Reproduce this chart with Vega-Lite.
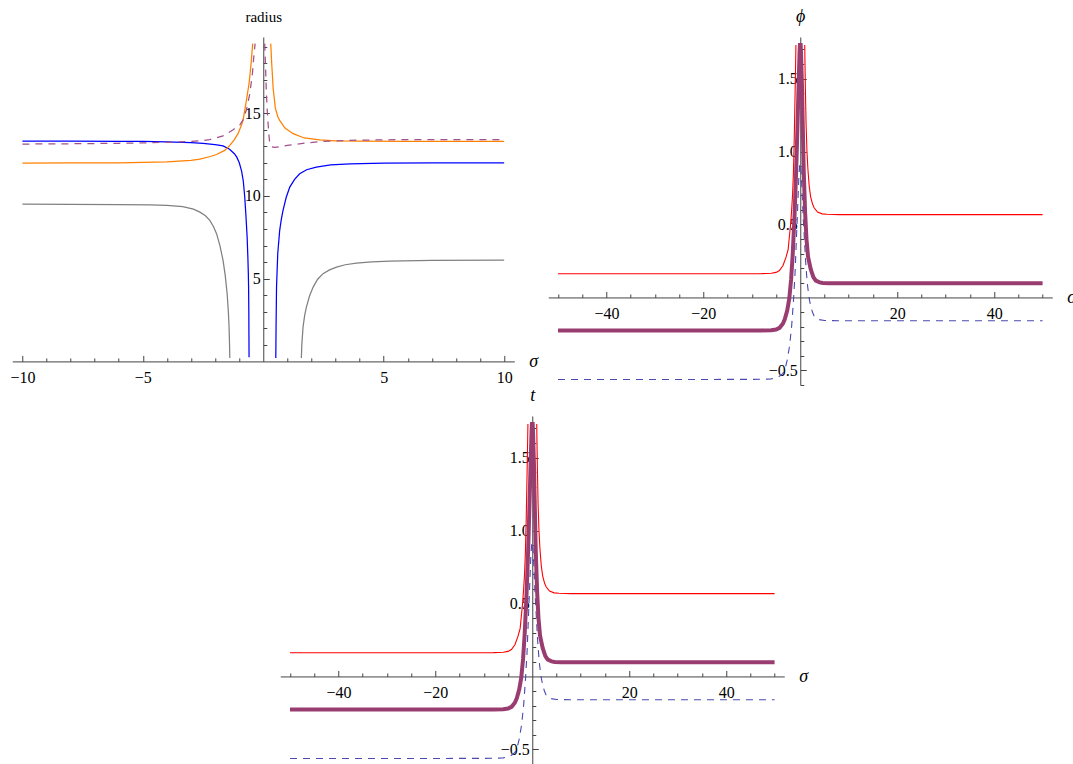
{
  "$schema": "https://vega.github.io/schema/vega-lite/v6.json",
  "padding": {"left": 9, "top": 7, "right": 0, "bottom": 0},
  "background": "white",
  "config": {
    "view": {"stroke": null},
    "axis": {
      "grid": false,
      "domainColor": "#444444",
      "tickColor": "#444444",
      "labelColor": "black",
      "labelFont": "Liberation Serif",
      "labelFontSize": 16,
      "labelFlush": false,
      "labelOverlap": false,
      "titleFont": "Liberation Serif",
      "titleColor": "black",
      "titleFontWeight": "normal",
      "zindex": 1
    }
  },
  "datasets": {
    "p1": [
      {"s": -10, "r": 13.31, "c": "blue", "g": "bL"}, {"s": -8, "r": 13.31, "c": "blue", "g": "bL"}, {"s": -6, "r": 13.3, "c": "blue", "g": "bL"}, {"s": -5, "r": 13.29, "c": "blue", "g": "bL"}, {"s": -4, "r": 13.27, "c": "blue", "g": "bL"}, {"s": -3, "r": 13.22, "c": "blue", "g": "bL"}, {"s": -2.5, "r": 13.17, "c": "blue", "g": "bL"}, {"s": -2, "r": 13.1, "c": "blue", "g": "bL"}, {"s": -1.67, "r": 13.02, "c": "blue", "g": "bL"}, {"s": -1.4, "r": 12.82, "c": "blue", "g": "bL"}, {"s": -1.2, "r": 12.55, "c": "blue", "g": "bL"}, {"s": -1.1, "r": 12.34, "c": "blue", "g": "bL"}, {"s": -1, "r": 12.02, "c": "blue", "g": "bL"}, {"s": -0.9, "r": 11.5, "c": "blue", "g": "bL"}, {"s": -0.83, "r": 10.9, "c": "blue", "g": "bL"}, {"s": -0.77, "r": 9.95, "c": "blue", "g": "bL"}, {"s": -0.72, "r": 8.8, "c": "blue", "g": "bL"}, {"s": -0.67, "r": 7.5, "c": "blue", "g": "bL"}, {"s": -0.64, "r": 6.3, "c": "blue", "g": "bL"}, {"s": -0.62, "r": 5.3, "c": "blue", "g": "bL"}, {"s": -0.61, "r": 4.5, "c": "blue", "g": "bL"}, {"s": -0.6, "r": 3.0, "c": "blue", "g": "bL"}, {"s": -0.595, "r": 1.5, "c": "blue", "g": "bL"}, {"s": -0.59, "r": 0.25, "c": "blue", "g": "bL"},
      {"s": 0.52, "r": 0.2, "c": "blue", "g": "bR"}, {"s": 0.53, "r": 2.0, "c": "blue", "g": "bR"}, {"s": 0.55, "r": 4.5, "c": "blue", "g": "bR"}, {"s": 0.6, "r": 6.5, "c": "blue", "g": "bR"}, {"s": 0.68, "r": 7.9, "c": "blue", "g": "bR"}, {"s": 0.75, "r": 8.6, "c": "blue", "g": "bR"}, {"s": 0.82, "r": 9.12, "c": "blue", "g": "bR"}, {"s": 0.95, "r": 9.9, "c": "blue", "g": "bR"}, {"s": 1.1, "r": 10.53, "c": "blue", "g": "bR"}, {"s": 1.3, "r": 11.0, "c": "blue", "g": "bR"}, {"s": 1.51, "r": 11.34, "c": "blue", "g": "bR"}, {"s": 1.8, "r": 11.58, "c": "blue", "g": "bR"}, {"s": 2.2, "r": 11.74, "c": "blue", "g": "bR"}, {"s": 2.8, "r": 11.87, "c": "blue", "g": "bR"}, {"s": 3.6, "r": 11.94, "c": "blue", "g": "bR"}, {"s": 5, "r": 11.98, "c": "blue", "g": "bR"}, {"s": 7, "r": 12.0, "c": "blue", "g": "bR"}, {"s": 10, "r": 12.0, "c": "blue", "g": "bR"},
      {"s": -10, "r": 11.98, "c": "orange", "g": "oL"}, {"s": -8, "r": 11.99, "c": "orange", "g": "oL"}, {"s": -6, "r": 12.0, "c": "orange", "g": "oL"}, {"s": -5, "r": 12.02, "c": "orange", "g": "oL"}, {"s": -4, "r": 12.06, "c": "orange", "g": "oL"}, {"s": -3, "r": 12.15, "c": "orange", "g": "oL"}, {"s": -2.63, "r": 12.22, "c": "orange", "g": "oL"}, {"s": -2.2, "r": 12.38, "c": "orange", "g": "oL"}, {"s": -1.94, "r": 12.5, "c": "orange", "g": "oL"}, {"s": -1.6, "r": 12.75, "c": "orange", "g": "oL"}, {"s": -1.39, "r": 13.05, "c": "orange", "g": "oL"}, {"s": -1.2, "r": 13.4, "c": "orange", "g": "oL"}, {"s": -1.05, "r": 13.76, "c": "orange", "g": "oL"}, {"s": -0.9, "r": 14.3, "c": "orange", "g": "oL"}, {"s": -0.84, "r": 14.56, "c": "orange", "g": "oL"}, {"s": -0.7, "r": 15.77, "c": "orange", "g": "oL"}, {"s": -0.6, "r": 16.7, "c": "orange", "g": "oL"}, {"s": -0.56, "r": 17.2, "c": "orange", "g": "oL"}, {"s": -0.5, "r": 18.1, "c": "orange", "g": "oL"}, {"s": -0.44, "r": 19.2, "c": "orange", "g": "oL"},
      {"s": 0.31, "r": 19.2, "c": "orange", "g": "oR"}, {"s": 0.35, "r": 18.0, "c": "orange", "g": "oR"}, {"s": 0.41, "r": 16.5, "c": "orange", "g": "oR"}, {"s": 0.5, "r": 15.3, "c": "orange", "g": "oR"}, {"s": 0.6, "r": 14.8, "c": "orange", "g": "oR"}, {"s": 0.68, "r": 14.56, "c": "orange", "g": "oR"}, {"s": 0.9, "r": 14.1, "c": "orange", "g": "oR"}, {"s": 1.24, "r": 13.76, "c": "orange", "g": "oR"}, {"s": 1.7, "r": 13.5, "c": "orange", "g": "oR"}, {"s": 2.34, "r": 13.38, "c": "orange", "g": "oR"}, {"s": 3, "r": 13.33, "c": "orange", "g": "oR"}, {"s": 4, "r": 13.31, "c": "orange", "g": "oR"}, {"s": 6, "r": 13.3, "c": "orange", "g": "oR"}, {"s": 10, "r": 13.3, "c": "orange", "g": "oR"},
      {"s": -10, "r": 9.5, "c": "gray", "g": "gL"}, {"s": -8, "r": 9.49, "c": "gray", "g": "gL"}, {"s": -6, "r": 9.47, "c": "gray", "g": "gL"}, {"s": -4.7, "r": 9.45, "c": "gray", "g": "gL"}, {"s": -4, "r": 9.42, "c": "gray", "g": "gL"}, {"s": -3.34, "r": 9.35, "c": "gray", "g": "gL"}, {"s": -2.9, "r": 9.2, "c": "gray", "g": "gL"}, {"s": -2.63, "r": 9.02, "c": "gray", "g": "gL"}, {"s": -2.4, "r": 8.8, "c": "gray", "g": "gL"}, {"s": -2.22, "r": 8.52, "c": "gray", "g": "gL"}, {"s": -2.07, "r": 8.15, "c": "gray", "g": "gL"}, {"s": -1.94, "r": 7.72, "c": "gray", "g": "gL"}, {"s": -1.8, "r": 7.0, "c": "gray", "g": "gL"}, {"s": -1.67, "r": 6.1, "c": "gray", "g": "gL"}, {"s": -1.58, "r": 5.2, "c": "gray", "g": "gL"}, {"s": -1.5, "r": 4.09, "c": "gray", "g": "gL"}, {"s": -1.45, "r": 3.0, "c": "gray", "g": "gL"}, {"s": -1.42, "r": 2.07, "c": "gray", "g": "gL"}, {"s": -1.4, "r": 1.0, "c": "gray", "g": "gL"}, {"s": -1.39, "r": 0.2, "c": "gray", "g": "gL"},
      {"s": 1.58, "r": 0.2, "c": "gray", "g": "gR"}, {"s": 1.6, "r": 1.0, "c": "gray", "g": "gR"}, {"s": 1.65, "r": 2.07, "c": "gray", "g": "gR"}, {"s": 1.72, "r": 2.8, "c": "gray", "g": "gR"}, {"s": 1.79, "r": 3.28, "c": "gray", "g": "gR"}, {"s": 1.92, "r": 3.95, "c": "gray", "g": "gR"}, {"s": 2.07, "r": 4.49, "c": "gray", "g": "gR"}, {"s": 2.25, "r": 4.95, "c": "gray", "g": "gR"}, {"s": 2.48, "r": 5.3, "c": "gray", "g": "gR"}, {"s": 2.75, "r": 5.53, "c": "gray", "g": "gR"}, {"s": 3.04, "r": 5.7, "c": "gray", "g": "gR"}, {"s": 3.4, "r": 5.84, "c": "gray", "g": "gR"}, {"s": 3.87, "r": 5.94, "c": "gray", "g": "gR"}, {"s": 4.5, "r": 6.02, "c": "gray", "g": "gR"}, {"s": 5.25, "r": 6.06, "c": "gray", "g": "gR"}, {"s": 7, "r": 6.1, "c": "gray", "g": "gR"}, {"s": 10, "r": 6.12, "c": "gray", "g": "gR"},
      {"s": -10, "r": 13.13, "c": "dash", "g": "dL"}, {"s": -8, "r": 13.15, "c": "dash", "g": "dL"}, {"s": -6, "r": 13.18, "c": "dash", "g": "dL"}, {"s": -5, "r": 13.2, "c": "dash", "g": "dL"}, {"s": -4, "r": 13.24, "c": "dash", "g": "dL"}, {"s": -3, "r": 13.3, "c": "dash", "g": "dL"}, {"s": -2.63, "r": 13.33, "c": "dash", "g": "dL"}, {"s": -2.22, "r": 13.4, "c": "dash", "g": "dL"}, {"s": -1.67, "r": 13.62, "c": "dash", "g": "dL"}, {"s": -1.25, "r": 14.0, "c": "dash", "g": "dL"}, {"s": -0.97, "r": 14.3, "c": "dash", "g": "dL"}, {"s": -0.84, "r": 14.6, "c": "dash", "g": "dL"}, {"s": -0.7, "r": 15.2, "c": "dash", "g": "dL"}, {"s": -0.56, "r": 16.17, "c": "dash", "g": "dL"}, {"s": -0.45, "r": 17.4, "c": "dash", "g": "dL"}, {"s": -0.4, "r": 18.3, "c": "dash", "g": "dL"}, {"s": -0.34, "r": 19.2, "c": "dash", "g": "dL"},
      {"s": 0.06, "r": 19.2, "c": "dash", "g": "dR"}, {"s": 0.1, "r": 17.5, "c": "dash", "g": "dR"}, {"s": 0.13, "r": 16.17, "c": "dash", "g": "dR"}, {"s": 0.17, "r": 15.0, "c": "dash", "g": "dR"}, {"s": 0.2, "r": 14.36, "c": "dash", "g": "dR"}, {"s": 0.24, "r": 13.6, "c": "dash", "g": "dR"}, {"s": 0.27, "r": 13.15, "c": "dash", "g": "dR"}, {"s": 0.35, "r": 12.97, "c": "dash", "g": "dR"}, {"s": 0.48, "r": 12.93, "c": "dash", "g": "dR"}, {"s": 0.7, "r": 12.98, "c": "dash", "g": "dR"}, {"s": 1.0, "r": 13.05, "c": "dash", "g": "dR"}, {"s": 1.5, "r": 13.15, "c": "dash", "g": "dR"}, {"s": 2.34, "r": 13.28, "c": "dash", "g": "dR"}, {"s": 3, "r": 13.33, "c": "dash", "g": "dR"}, {"s": 4, "r": 13.37, "c": "dash", "g": "dR"}, {"s": 6, "r": 13.4, "c": "dash", "g": "dR"}, {"s": 10, "r": 13.4, "c": "dash", "g": "dR"}
    ],
    "p2": [
      {"s": -50, "v": -0.562, "c": "dash", "g": "d"}, {"s": -20, "v": -0.562, "c": "dash", "g": "d"}, {"s": -8, "v": -0.561, "c": "dash", "g": "d"}, {"s": -6, "v": -0.558, "c": "dash", "g": "d"}, {"s": -5, "v": -0.55, "c": "dash", "g": "d"}, {"s": -4.3, "v": -0.54, "c": "dash", "g": "d"}, {"s": -3.56, "v": -0.52, "c": "dash", "g": "d"}, {"s": -3.0, "v": -0.47, "c": "dash", "g": "d"}, {"s": -2.7, "v": -0.43, "c": "dash", "g": "d"}, {"s": -2.2, "v": -0.33, "c": "dash", "g": "d"}, {"s": -1.78, "v": -0.196, "c": "dash", "g": "d"}, {"s": -1.4, "v": -0.02, "c": "dash", "g": "d"}, {"s": -1.07, "v": 0.173, "c": "dash", "g": "d"}, {"s": -0.8, "v": 0.4, "c": "dash", "g": "d"}, {"s": -0.57, "v": 0.59, "c": "dash", "g": "d"}, {"s": -0.3, "v": 0.82, "c": "dash", "g": "d"}, {"s": -0.14, "v": 0.9, "c": "dash", "g": "d"}, {"s": 0, "v": 0.92, "c": "dash", "g": "d"}, {"s": 0.15, "v": 0.88, "c": "dash", "g": "d"}, {"s": 0.36, "v": 0.73, "c": "dash", "g": "d"}, {"s": 0.6, "v": 0.55, "c": "dash", "g": "d"}, {"s": 0.85, "v": 0.4, "c": "dash", "g": "d"}, {"s": 1.1, "v": 0.25, "c": "dash", "g": "d"}, {"s": 1.42, "v": 0.104, "c": "dash", "g": "d"}, {"s": 1.8, "v": 0.0, "c": "dash", "g": "d"}, {"s": 2.14, "v": -0.058, "c": "dash", "g": "d"}, {"s": 2.5, "v": -0.1, "c": "dash", "g": "d"}, {"s": 2.85, "v": -0.127, "c": "dash", "g": "d"}, {"s": 3.4, "v": -0.145, "c": "dash", "g": "d"}, {"s": 3.9, "v": -0.152, "c": "dash", "g": "d"}, {"s": 5, "v": -0.158, "c": "dash", "g": "d"}, {"s": 8, "v": -0.16, "c": "dash", "g": "d"}, {"s": 50, "v": -0.16, "c": "dash", "g": "d"},
      {"s": -50, "v": -0.226, "c": "purple", "g": "p"}, {"s": -20, "v": -0.226, "c": "purple", "g": "p"}, {"s": -8, "v": -0.226, "c": "purple", "g": "p"}, {"s": -6, "v": -0.224, "c": "purple", "g": "p"}, {"s": -5, "v": -0.22, "c": "purple", "g": "p"}, {"s": -4.27, "v": -0.208, "c": "purple", "g": "p"}, {"s": -3.6, "v": -0.18, "c": "purple", "g": "p"}, {"s": -3.2, "v": -0.15, "c": "purple", "g": "p"}, {"s": -2.7, "v": -0.09, "c": "purple", "g": "p"}, {"s": -2.28, "v": -0.01, "c": "purple", "g": "p"}, {"s": -1.9, "v": 0.12, "c": "purple", "g": "p"}, {"s": -1.57, "v": 0.29, "c": "purple", "g": "p"}, {"s": -1.2, "v": 0.55, "c": "purple", "g": "p"}, {"s": -0.85, "v": 0.866, "c": "purple", "g": "p"}, {"s": -0.6, "v": 1.15, "c": "purple", "g": "p"}, {"s": -0.36, "v": 1.44, "c": "purple", "g": "p"}, {"s": -0.15, "v": 1.68, "c": "purple", "g": "p"}, {"s": -0.08, "v": 1.73, "c": "purple", "g": "p"}, {"s": 0.08, "v": 1.73, "c": "purple", "g": "p"}, {"s": 0.15, "v": 1.68, "c": "purple", "g": "p"}, {"s": 0.36, "v": 1.44, "c": "purple", "g": "p"}, {"s": 0.5, "v": 1.2, "c": "purple", "g": "p"}, {"s": 0.71, "v": 0.87, "c": "purple", "g": "p"}, {"s": 1.0, "v": 0.58, "c": "purple", "g": "p"}, {"s": 1.28, "v": 0.4, "c": "purple", "g": "p"}, {"s": 1.6, "v": 0.28, "c": "purple", "g": "p"}, {"s": 2.14, "v": 0.196, "c": "purple", "g": "p"}, {"s": 2.7, "v": 0.14, "c": "purple", "g": "p"}, {"s": 3.2, "v": 0.115, "c": "purple", "g": "p"}, {"s": 4.0, "v": 0.103, "c": "purple", "g": "p"}, {"s": 4.63, "v": 0.099, "c": "purple", "g": "p"}, {"s": 6, "v": 0.097, "c": "purple", "g": "p"}, {"s": 20, "v": 0.097, "c": "purple", "g": "p"}, {"s": 50, "v": 0.097, "c": "purple", "g": "p"},
      {"s": -50, "v": 0.162, "c": "red", "g": "rL"}, {"s": -15, "v": 0.162, "c": "red", "g": "rL"}, {"s": -8, "v": 0.163, "c": "red", "g": "rL"}, {"s": -6, "v": 0.166, "c": "red", "g": "rL"}, {"s": -5, "v": 0.172, "c": "red", "g": "rL"}, {"s": -4.3, "v": 0.185, "c": "red", "g": "rL"}, {"s": -3.56, "v": 0.219, "c": "red", "g": "rL"}, {"s": -2.94, "v": 0.276, "c": "red", "g": "rL"}, {"s": -2.5, "v": 0.33, "c": "red", "g": "rL"}, {"s": -2.26, "v": 0.413, "c": "red", "g": "rL"}, {"s": -2.0, "v": 0.5, "c": "red", "g": "rL"}, {"s": -1.78, "v": 0.6, "c": "red", "g": "rL"}, {"s": -1.6, "v": 0.7, "c": "red", "g": "rL"}, {"s": -1.42, "v": 0.85, "c": "red", "g": "rL"}, {"s": -1.25, "v": 1.08, "c": "red", "g": "rL"}, {"s": -1.07, "v": 1.4, "c": "red", "g": "rL"}, {"s": -0.95, "v": 1.62, "c": "red", "g": "rL"}, {"s": -0.9, "v": 1.73, "c": "red", "g": "rL"},
      {"s": 0.92, "v": 1.73, "c": "red", "g": "rR"}, {"s": 0.97, "v": 1.6, "c": "red", "g": "rR"}, {"s": 1.07, "v": 1.4, "c": "red", "g": "rR"}, {"s": 1.2, "v": 1.18, "c": "red", "g": "rR"}, {"s": 1.38, "v": 1.0, "c": "red", "g": "rR"}, {"s": 1.57, "v": 0.88, "c": "red", "g": "rR"}, {"s": 1.85, "v": 0.76, "c": "red", "g": "rR"}, {"s": 2.14, "v": 0.69, "c": "red", "g": "rR"}, {"s": 2.53, "v": 0.64, "c": "red", "g": "rR"}, {"s": 2.85, "v": 0.615, "c": "red", "g": "rR"}, {"s": 3.56, "v": 0.585, "c": "red", "g": "rR"}, {"s": 4.5, "v": 0.573, "c": "red", "g": "rR"}, {"s": 5.5, "v": 0.57, "c": "red", "g": "rR"}, {"s": 8, "v": 0.568, "c": "red", "g": "rR"}, {"s": 50, "v": 0.568, "c": "red", "g": "rR"}
    ]
  },
  "spacing": -7,
  "center": true,
  "vconcat": [
    {
      "spacing": 10,
      "hconcat": [
        {
          "width": 502,
          "height": 324.4,
          "data": {"name": "p1"},
          "encoding": {
            "x": {"field": "s", "type": "quantitative", "scale": {"domain": [-10.42, 10.42], "nice": false, "zero": false},
              "axis": {"orient": "bottom", "offset": 0,
                "values": [-10, -9, -8, -7, -6, -5, -4, -3, -2, -1, 1, 2, 3, 4, 5, 6, 7, 8, 9, 10],
                "labelExpr": "abs(datum.value) % 5 === 0 ? datum.label : ''",
                "tickSize": {"condition": {"test": "abs(datum.value) % 5 === 0", "value": -6}, "value": -3.5},
                "labelPadding": 14,
                "title": "σ", "titleFontStyle": "italic", "titleFontSize": 18, "titleX": 521, "titleY": 0, "titleAlign": "center", "titleBaseline": "middle", "titleAngle": 0}},
            "y": {"field": "r", "type": "quantitative", "scale": {"domain": [0, 19.6], "nice": false, "zero": false},
              "axis": {"orient": "left", "offset": -251,
                "values": [1, 2, 3, 4, 5, 6, 7, 8, 9, 10, 11, 12, 13, 14, 15, 16, 17, 18, 19],
                "labelExpr": "datum.value % 5 === 0 ? datum.label : ''",
                "tickSize": {"condition": {"test": "datum.value % 5 === 0", "value": -6}, "value": -3.5},
                "labelPadding": 9,
                "title": "radius", "titleFontSize": 15, "titleX": 0, "titleY": -21, "titleAlign": "center", "titleBaseline": "middle", "titleAngle": 0}}
          },
          "layer": [
            {
              "transform": [{"filter": "datum.c !== 'dash'"}],
              "mark": {"type": "line", "clip": true, "strokeWidth": 1.25},
              "encoding": {
                "color": {"field": "c", "type": "nominal", "scale": {"domain": ["blue", "orange", "gray"], "range": ["#0000ff", "#ff8000", "#808080"]}, "legend": null},
                "detail": {"field": "g"}
              }
            },
            {
              "transform": [{"filter": "datum.c === 'dash'"}],
              "mark": {"type": "line", "clip": true, "strokeWidth": 1.25, "color": "#a0508a", "strokeDash": [7, 6]},
              "encoding": {"detail": {"field": "g"}}
            }
          ]
        },
        {
          "width": 504,
          "height": 348,
          "data": {"name": "p2"},
          "encoding": {
            "x": {"field": "s", "type": "quantitative", "scale": {"domain": [-52, 52], "nice": false, "zero": false},
              "axis": {"orient": "bottom", "offset": -87.55,
                "values": [-50, -45, -40, -35, -30, -25, -20, -15, -10, -5, 5, 10, 15, 20, 25, 30, 35, 40, 45, 50],
                "labelExpr": "abs(datum.value) % 20 === 0 ? datum.label : ''",
                "tickSize": {"condition": {"test": "abs(datum.value) % 20 === 0", "value": -6}, "value": -3.5},
                "labelPadding": 14,
                "title": "σ", "titleFontStyle": "italic", "titleFontSize": 18, "titleX": 523, "titleY": 0, "titleAlign": "center", "titleBaseline": "middle", "titleAngle": 0}},
            "y": {"field": "v", "type": "quantitative", "scale": {"domain": [-0.6, 1.785], "nice": false, "zero": false},
              "axis": {"orient": "left", "offset": -252, "format": ".1f",
                "values": [-0.6, -0.5, -0.4, -0.3, -0.2, -0.1, 0.1, 0.2, 0.3, 0.4, 0.5, 0.6, 0.7, 0.8, 0.9, 1, 1.1, 1.2, 1.3, 1.4, 1.5, 1.6, 1.7],
                "labelExpr": "indexof([-0.5, 0.5, 1, 1.5], datum.value) >= 0 ? datum.label : ''",
                "tickSize": {"condition": {"test": "indexof([-0.5, 0.5, 1, 1.5], datum.value) >= 0", "value": -6}, "value": -3.5},
                "labelPadding": 9,
                "title": "ϕ", "titleFontStyle": "italic", "titleFontSize": 18, "titleX": 0, "titleY": -21, "titleAlign": "center", "titleBaseline": "middle", "titleAngle": 0}}
          },
          "layer": [
            {"transform": [{"filter": "datum.c === 'dash'"}], "mark": {"type": "line", "clip": true, "strokeWidth": 1.1, "color": "#4a4ab0", "strokeDash": [7, 6]}, "encoding": {"detail": {"field": "g"}}},
            {"transform": [{"filter": "datum.c === 'purple'"}], "mark": {"type": "line", "clip": true, "strokeWidth": 4, "color": "#993d71"}, "encoding": {"detail": {"field": "g"}}},
            {"transform": [{"filter": "datum.c === 'red'"}], "mark": {"type": "line", "clip": true, "strokeWidth": 1.1, "color": "#ff0000"}, "encoding": {"detail": {"field": "g"}}}
          ]
        }
      ]
    },
    {
      "width": 504,
      "height": 348,
      "data": {"name": "p2"},
      "encoding": {
        "x": {"field": "s", "type": "quantitative", "scale": {"domain": [-52, 52], "nice": false, "zero": false},
          "axis": {"orient": "bottom", "offset": -87.55,
            "values": [-50, -45, -40, -35, -30, -25, -20, -15, -10, -5, 5, 10, 15, 20, 25, 30, 35, 40, 45, 50],
            "labelExpr": "abs(datum.value) % 20 === 0 ? datum.label : ''",
            "tickSize": {"condition": {"test": "abs(datum.value) % 20 === 0", "value": -6}, "value": -3.5},
            "labelPadding": 14,
            "title": "σ", "titleFontStyle": "italic", "titleFontSize": 18, "titleX": 523, "titleY": 0, "titleAlign": "center", "titleBaseline": "middle", "titleAngle": 0}},
        "y": {"field": "v", "type": "quantitative", "scale": {"domain": [-0.6, 1.785], "nice": false, "zero": false},
          "axis": {"orient": "left", "offset": -252, "format": ".1f",
            "values": [-0.6, -0.5, -0.4, -0.3, -0.2, -0.1, 0.1, 0.2, 0.3, 0.4, 0.5, 0.6, 0.7, 0.8, 0.9, 1, 1.1, 1.2, 1.3, 1.4, 1.5, 1.6, 1.7],
            "labelExpr": "indexof([-0.5, 0.5, 1, 1.5], datum.value) >= 0 ? datum.label : ''",
            "tickSize": {"condition": {"test": "indexof([-0.5, 0.5, 1, 1.5], datum.value) >= 0", "value": -6}, "value": -3.5},
            "labelPadding": 9,
            "title": "t", "titleFontStyle": "italic", "titleFontSize": 18, "titleX": 0, "titleY": -21, "titleAlign": "center", "titleBaseline": "middle", "titleAngle": 0}}
      },
      "layer": [
        {"transform": [{"filter": "datum.c === 'dash'"}], "mark": {"type": "line", "clip": true, "strokeWidth": 1.1, "color": "#4a4ab0", "strokeDash": [7, 6]}, "encoding": {"detail": {"field": "g"}}},
        {"transform": [{"filter": "datum.c === 'purple'"}], "mark": {"type": "line", "clip": true, "strokeWidth": 4, "color": "#993d71"}, "encoding": {"detail": {"field": "g"}}},
        {"transform": [{"filter": "datum.c === 'red'"}], "mark": {"type": "line", "clip": true, "strokeWidth": 1.1, "color": "#ff0000"}, "encoding": {"detail": {"field": "g"}}}
      ]
    }
  ]
}
